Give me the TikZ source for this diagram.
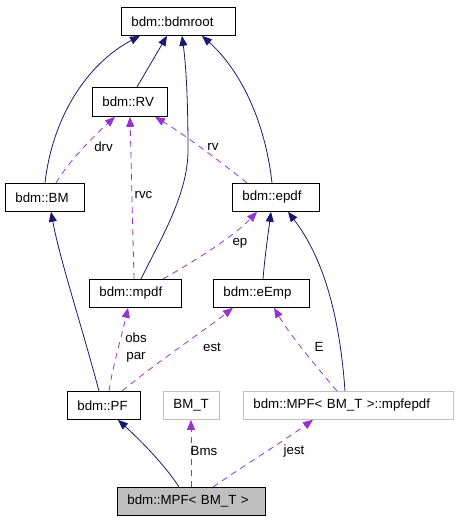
\documentclass[tikz,border=0pt]{standalone}
\usepackage{fontspec}
\setmainfont{Liberation Sans}
\usetikzlibrary{arrows.meta,calc}
\definecolor{navy}{RGB}{25,25,112}
\definecolor{orchid}{RGB}{153,50,204}
\definecolor{lgray}{RGB}{191,191,191}
\tikzset{
  box/.style={draw=black, line width=0.8pt, fill=white, anchor=north west,
    minimum height=28pt, inner xsep=10pt, inner ysep=0pt, align=left,
    font=\fontsize{13.3}{16}\selectfont},
  graybox/.style={box, draw=lgray},
  inh/.style={draw=navy, line width=0.8pt, -{Triangle[length=10pt,width=8pt]}},
  use/.style={draw=orchid, line width=0.8pt, dash pattern=on 6pt off 5pt, -{Triangle[length=10pt,width=8pt]}},
  lbl/.style={font=\fontsize{13.3}{17}\selectfont, inner sep=0pt, align=center}
}
\begin{document}
\begin{tikzpicture}[x=1pt,y=-1pt]
\useasboundingbox (0,0) rectangle (456,520);
% nodes
\node[box, text width=94pt] (root) at (121,7) {bdm::bdmroot};
\node[box, text width=55pt, minimum height=29pt] (RV) at (92,87) {bdm::RV};
\node[box, text width=59pt] (BM) at (5,183) {bdm::BM};
\node[box, text width=67pt] (epdf) at (232,183) {bdm::epdf};
\node[box, text width=72pt] (mpdf) at (89,279) {bdm::mpdf};
\node[box, text width=76pt] (eEmp) at (213,279) {bdm::eEmp};
\node[box, text width=53pt] (PF) at (67,391) {bdm::PF};
\node[graybox, text width=36pt] (BMT) at (163,391) {BM\_T};
\node[graybox, text width=190pt] (mpfe) at (243,391) {bdm::MPF< BM\_T >::mpfepdf};
\node[box, fill=lgray, text width=128pt] (MPF) at (117,487) {bdm::MPF< BM\_T >};
% inheritance (navy)
\draw[inh] ($(BM.north west)+(40,0)$) .. controls (52,120) and (85,65) .. ($(root.south west)+(19,0)$);
\draw[inh] ($(RV.north west)+(45,0)$) -- ($(root.south west)+(46,0)$);
\draw[inh] ($(mpdf.north west)+(52,0)$) .. controls (160,240) and (188,195) .. (188,150) .. controls (188,100) and (186,65) .. ($(root.south west)+(61,0)$);
\draw[inh] ($(epdf.north west)+(40,0)$) .. controls (265,120) and (240,70) .. ($(root.south west)+(81,0)$);
\draw[inh] ($(eEmp.north west)+(50,0)$) .. controls (265,255) and (268,235) .. ($(epdf.south west)+(39,0)$);
\draw[inh] ($(mpfe.north west)+(102,0)$) .. controls (340,320) and (325,260) .. ($(epdf.south west)+(56,0)$);
\draw[inh] ($(PF.north west)+(32,0)$) .. controls (80,320) and (60,260) .. ($(BM.south west)+(46,0)$);
\draw[inh] ($(MPF.north west)+(62,0)$) .. controls (165,465) and (140,440) .. ($(PF.south west)+(51,0)$);
% usage (purple dashed)
\draw[use] ($(BM.north west)+(51,0)$) .. controls (68,162) and (95,135) .. ($(RV.south west)+(23,0)$);
\draw[use] ($(mpdf.north west)+(45,0)$) -- ($(RV.south west)+(38,0)$);
\draw[use] ($(epdf.north west)+(15,0)$) .. controls (225,165) and (185,135) .. ($(RV.south west)+(63,0)$);
\draw[use] ($(mpdf.north west)+(74,0)$) .. controls (200,258) and (235,235) .. ($(epdf.south west)+(25,0)$);
\draw[use] ($(PF.north west)+(42,0)$) .. controls (113,365) and (122,335) .. ($(mpdf.south west)+(39,0)$);
\draw[use] ($(PF.north west)+(55,0)$) .. controls (160,360) and (205,330) .. ($(eEmp.south west)+(20,0)$);
\draw[use] ($(mpfe.north west)+(94,0)$) .. controls (315,365) and (290,335) .. ($(eEmp.south west)+(61,0)$);
\draw[use] ($(MPF.north west)+(74,0)$) -- ($(BMT.south west)+(28,0)$);
\draw[use] ($(MPF.north west)+(96,0)$) .. controls (245,465) and (285,440) .. ($(mpfe.south west)+(70,0)$);
% labels
\node[lbl] (ldrv) at (103.5,147) {drv};
\node[lbl] (lrvc) at (143.5,195) {rvc};
\node[lbl] (lrv) at (213,147) {rv};
\node[lbl] (lep) at (240,243) {ep};
\node[lbl] (lobs) at (136,347.5) {obs\\par};
\node[lbl] (lest) at (212,347) {est};
\node[lbl] (lE) at (319,347) {E};
\node[lbl] (lBms) at (204,451) {Bms};
\node[lbl] (ljest) at (294,451) {jest};
\end{tikzpicture}
\end{document}
